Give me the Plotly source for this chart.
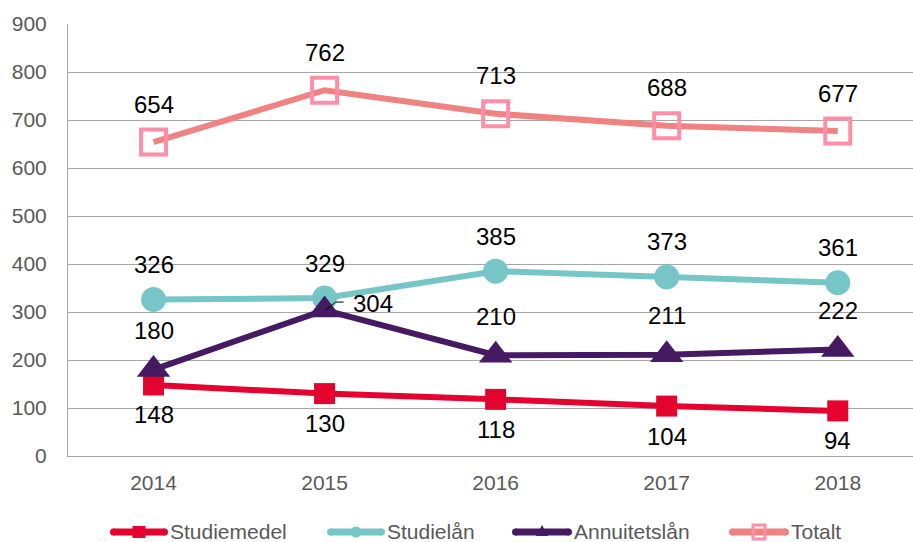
import plotly.graph_objects as go

# Data
years = [2014, 2015, 2016, 2017, 2018]
studiemedel = [148, 130, 118, 104, 94]
studielan = [326, 329, 385, 373, 361]
annuitetslan = [180, 304, 210, 211, 222]
totalt = [654, 762, 713, 688, 677]

series_names = ["Studiemedel", "Studielån", "Annuitetslån", "Totalt"]
y_ticks = [0, 100, 200, 300, 400, 500, 600, 700, 800, 900]

FONT = "Liberation Sans, Arial, sans-serif"
RED = "#E4032E"
TEAL = "#76C6C8"
PURPLE = "#461A62"
CORAL = "#F08282"
PINK = "#FF8FA8"

W, H = 913, 542
ML, MR, MT, MB = 68, 0, 24, 86
PW, PH = W - ML - MR, H - MT - MB

fig = go.Figure()

fig.add_trace(go.Scatter(
    x=years, y=studiemedel, mode="lines+markers", name=series_names[0],
    line=dict(color=RED, width=6),
    marker=dict(symbol="square", size=21, color=RED),
))
fig.add_trace(go.Scatter(
    x=years, y=studielan, mode="lines+markers", name=series_names[1],
    line=dict(color=TEAL, width=6),
    marker=dict(symbol="circle", size=25, color=TEAL),
))
fig.add_trace(go.Scatter(
    x=years, y=annuitetslan, mode="lines+markers", name=series_names[2],
    line=dict(color=PURPLE, width=6),
    marker=dict(symbol="triangle-up", size=29, color=PURPLE),
))
fig.add_trace(go.Scatter(
    x=years, y=totalt, mode="lines+markers", name=series_names[3],
    line=dict(color=CORAL, width=6),
    marker=dict(symbol="square-open", size=25, color=PINK, line=dict(width=4, color=PINK)),
))

# Value labels
annotations = []
label_font = dict(family=FONT, size=24, color="#000000")


def add_labels(values, yshift, skip=()):
    for x, v in zip(years, values):
        if x in skip:
            continue
        annotations.append(dict(x=x, y=v, text=str(v), showarrow=False,
                                yshift=yshift, font=label_font))


add_labels(totalt, 38)
add_labels(studielan, 35)
add_labels(annuitetslan, 39, skip=(2015,))
add_labels(studiemedel, -30)

# 2015 Annuitetslån label placed to the right with a leader line
annotations.append(dict(x=2015, y=annuitetslan[1], text=str(annuitetslan[1]),
                        showarrow=False, xshift=48, yshift=7, font=label_font))
shapes = [dict(type="path", xref="x", yref="y", xsizemode="pixel", ysizemode="pixel",
               xanchor=2015, yanchor=annuitetslan[1],
               path="M 1,0 L 11,8 L 19,8", line=dict(color="#000000", width=1))]


# Legend drawn in paper coordinates
def px(xp):
    return (xp - ML) / PW


def py(yp):
    return (H - MB - yp) / PH


legend_y = 532
legend_items = [
    (series_names[0], 110, 168, RED, "square"),
    (series_names[1], 327, 385, TEAL, "circle"),
    (series_names[2], 512, 572, PURPLE, "triangle"),
    (series_names[3], 729, 789, CORAL, "open"),
]
for name, x0, x1, col, sym in legend_items:
    shapes.append(dict(type="line", xref="paper", yref="paper",
                       x0=px(x0 + 3), x1=px(x1 - 3), y0=py(legend_y), y1=py(legend_y),
                       line=dict(color=col, width=7)))
    # rounded line ends
    shapes.append(dict(type="circle", xref="paper", yref="paper",
                       x0=px(x0), x1=px(x0 + 7), y0=py(legend_y - 3.5), y1=py(legend_y + 3.5),
                       fillcolor=col, line=dict(width=0)))
    shapes.append(dict(type="circle", xref="paper", yref="paper",
                       x0=px(x1 - 7), x1=px(x1), y0=py(legend_y - 3.5), y1=py(legend_y + 3.5),
                       fillcolor=col, line=dict(width=0)))
    cx = (x0 + x1) / 2
    if sym == "square":
        shapes.append(dict(type="rect", xref="paper", yref="paper",
                           x0=px(cx - 6.5), x1=px(cx + 6.5), y0=py(legend_y + 6), y1=py(legend_y - 6),
                           fillcolor=col, line=dict(width=0)))
    elif sym == "circle":
        shapes.append(dict(type="circle", xref="paper", yref="paper",
                           x0=px(cx - 5.5), x1=px(cx + 5.5), y0=py(legend_y + 5.5), y1=py(legend_y - 5.5),
                           fillcolor=col, line=dict(width=0)))
    elif sym == "triangle":
        shapes.append(dict(type="path", xref="paper", yref="paper",
                           path=f"M {px(cx - 6)},{py(legend_y + 4)} L {px(cx + 6)},{py(legend_y + 4)} "
                                f"L {px(cx)},{py(legend_y - 7)} Z",
                           fillcolor=col, line=dict(width=0)))
    else:
        shapes.append(dict(type="rect", xref="paper", yref="paper",
                           x0=px(cx - 6), x1=px(cx + 6), y0=py(legend_y + 7), y1=py(legend_y - 7),
                           fillcolor="rgba(0,0,0,0)", line=dict(color=PINK, width=3)))
    annotations.append(dict(xref="paper", yref="paper", x=px(x1 + 1), y=py(legend_y - 1),
                            xanchor="left", yanchor="middle", showarrow=False, text=name,
                            borderpad=0, font=dict(family=FONT, size=21, color="#595959")))

fig.update_layout(
    width=W, height=H,
    margin=dict(l=ML, r=MR, t=MT, b=MB, pad=0),
    paper_bgcolor="#FFFFFF", plot_bgcolor="#FFFFFF",
    showlegend=False,
    font=dict(family=FONT, color="#595959"),
    annotations=annotations,
    shapes=shapes,
    xaxis=dict(
        range=[2013.5, 2018.44], tickvals=years, ticktext=[str(y) for y in years],
        showgrid=False, zeroline=False, showline=True, linecolor="#A6A6A6", linewidth=1,
        ticks="", tickfont=dict(family=FONT, size=21, color="#595959"),
        ticklabelstandoff=8,
    ),
    yaxis=dict(
        range=[0, 900], tickvals=y_ticks,
        showgrid=True, gridcolor="#A6A6A6", gridwidth=1, zeroline=False,
        showline=True, linecolor="#A6A6A6", linewidth=1,
        ticks="", tickfont=dict(family=FONT, size=21, color="#595959"),
        ticklabelstandoff=16,
    ),
)

fig.write_html("out.html")
